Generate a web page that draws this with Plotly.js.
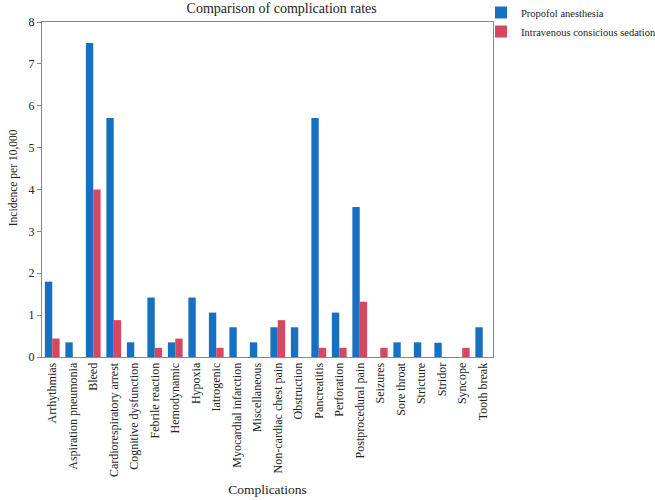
<!DOCTYPE html>
<html>
<head>
<meta charset="utf-8">
<script src="https://cdn.plot.ly/plotly-3.0.1.min.js"></script>
<style>html,body{margin:0;padding:0;background:#fff;}#chart{width:655px;height:500px;}</style>
</head>
<body>
<div id="chart"></div>
<script>
const categories = ["Arrhythmias","Aspiration pneumonia","Bleed","Cardiorespiratory arrest","Cognitive dysfunction","Febrile reaction","Hemodynamic","Hypoxia","Iatrogenic","Myocardial infarction","Miscellaneous","Non-cardiac chest pain","Obstruction","Pancreatitis","Perforation","Postprocedural pain","Seizures","Sore throat","Stricture","Stridor","Syncope","Tooth break"];
const propofol = [1.80,0.35,7.50,5.71,0.35,1.42,0.35,1.42,1.06,0.71,0.35,0.71,0.71,5.71,1.06,3.58,0,0.35,0.35,0.34,0,0.71];
const ics = [0.44,0,4.00,0.88,0,0.22,0.44,0,0.22,0,0,0.88,0,0.22,0.22,1.32,0.22,0,0,0,0.22,0];
const yTicks = [0,1,2,3,4,5,6,7,8];

const fam = "Liberation Serif, Times New Roman, serif";
const traces = [
  {type: "bar", name: "Propofol anesthesia", x: categories, y: propofol, marker: {color: "#1770c2"}},
  {type: "bar", name: "Intravenous consicious sedation", x: categories, y: ics, marker: {color: "#d6485f"}}
];
const layout = {
  width: 655, height: 500,
  margin: {l: 42, r: 162, t: 22, b: 143, autoexpand: false},
  font: {family: fam, color: "#222", size: 12},
  paper_bgcolor: "#fff", plot_bgcolor: "#fff",
  barmode: "group", bargap: 0.28, bargroupgap: 0,
  title: {text: "Comparison of complication rates", font: {family: fam, size: 14, color: "#222"}, x: 0.43, xanchor: "center", y: 0.994, yanchor: "top"},
  xaxis: {
    type: "category", tickangle: -90, showgrid: false, zeroline: false,
    showline: true, linecolor: "#888", linewidth: 1, mirror: true, ticks: "",
    tickfont: {family: fam, size: 12, color: "#222"},
    title: {text: "Complications", font: {family: fam, size: 13.5, color: "#222"}, standoff: 8}
  },
  yaxis: {
    range: [0, 8], tickvals: yTicks, showgrid: false, zeroline: false,
    showline: true, linecolor: "#888", linewidth: 1, mirror: true,
    ticks: "outside", ticklen: 4, tickcolor: "#888",
    tickfont: {family: fam, size: 12, color: "#222"}
  },
  annotations: [{
    text: "Incidence per 10,000", textangle: -90, showarrow: false,
    xref: "paper", yref: "paper", x: -0.064, y: 0.534, xanchor: "center", yanchor: "middle",
    font: {family: fam, size: 11.5, color: "#222"}
  }],
  showlegend: true,
  legend: {xref: "paper", yref: "paper", x: 0.9734, xanchor: "left", y: 1.0716, yanchor: "top",
           font: {family: fam, size: 10.5, color: "#222"}, itemwidth: 30, tracegroupgap: 0, bgcolor: "rgba(0,0,0,0)"}
};
Plotly.newPlot("chart", traces, layout, {displayModeBar: false, staticPlot: true});
</script>
</body>
</html>
